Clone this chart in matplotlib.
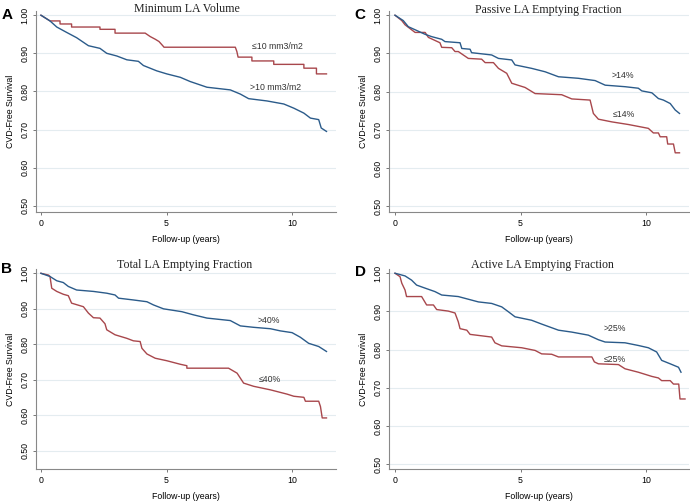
import matplotlib
matplotlib.use("Agg")
import matplotlib.pyplot as plt

plt.rcParams['font.family'] = ['Liberation Sans', 'DejaVu Sans']

# ---- data (years, CVD-free survival) ----
# A: minimum LA volume
a_low_t = [0, 0.36, 0.76, 0.76, 1.22, 1.22, 2.35, 2.35, 2.95, 2.95, 4.15, 4.35, 4.55, 4.7,
           4.85, 4.9, 7.74, 7.8, 7.85, 8.4, 8.4, 9.27, 9.27, 10.47, 10.47, 10.97, 10.97, 11.37]
a_low_s = [1.0, 0.985, 0.985, 0.977, 0.977, 0.969, 0.969, 0.963, 0.963, 0.953, 0.953, 0.944, 0.937, 0.931,
           0.92, 0.916, 0.916, 0.905, 0.89, 0.89, 0.88, 0.88, 0.871, 0.871, 0.861, 0.861, 0.846, 0.846]
a_high_t = [0, 0.36, 0.63, 1.02, 1.42, 1.89, 2.35, 2.62, 3.02, 3.42, 3.88, 4.08, 4.61, 5.01,
            5.55, 5.94, 6.61, 7.54, 7.94, 8.27, 9.0, 9.67, 10.07, 10.47, 10.73, 11.06, 11.16, 11.37]
a_high_s = [1.0, 0.985, 0.969, 0.955, 0.941, 0.92, 0.913, 0.9, 0.893, 0.883, 0.879, 0.868, 0.854, 0.846,
            0.837, 0.826, 0.811, 0.804, 0.793, 0.781, 0.775, 0.767, 0.756, 0.743, 0.73, 0.726, 0.704, 0.695]

# B: total LA emptying fraction
b_high_t = [0, 0.36, 0.63, 0.89, 1.09, 1.42, 2.09, 2.62, 2.95, 3.09, 3.68, 4.22, 4.48, 4.88,
            5.61, 6.08, 6.61, 7.54, 7.94, 8.47, 9.14, 9.53, 10.0, 10.33, 10.66, 11.06, 11.37]
b_high_s = [1.0, 0.991, 0.979, 0.974, 0.963, 0.953, 0.949, 0.944, 0.939, 0.93, 0.925, 0.92, 0.911, 0.9,
            0.892, 0.883, 0.874, 0.867, 0.852, 0.848, 0.844, 0.838, 0.833, 0.82, 0.803, 0.794, 0.78]
b_low_t = [0, 0.3, 0.36, 0.43, 0.63, 0.89, 1.09, 1.22, 1.69, 1.89, 2.09, 2.35, 2.55, 2.62, 2.95,
           3.42, 3.68, 3.95, 4.02, 4.22, 4.55, 5.01, 5.55, 5.81, 5.81, 7.47, 7.81, 8.07, 8.47,
           9.14, 9.8, 10.07, 10.47, 10.53, 11.06, 11.13, 11.2, 11.37]
b_low_s = [1.0, 0.995, 0.991, 0.958, 0.949, 0.941, 0.937, 0.916, 0.906, 0.888, 0.875, 0.874, 0.858, 0.841, 0.827,
           0.817, 0.81, 0.808, 0.789, 0.773, 0.761, 0.754, 0.744, 0.74, 0.733, 0.733, 0.719, 0.691, 0.682,
           0.672, 0.66, 0.654, 0.651, 0.64, 0.64, 0.625, 0.593, 0.593]

# C: passive LA emptying fraction
c_high_t = [0, 0.33, 0.53, 0.8, 1.2, 1.46, 1.86, 1.99, 2.59, 2.66, 2.99, 3.05, 3.85, 4.12, 4.65, 4.78,
            5.44, 5.98, 6.51, 7.3, 7.97, 8.37, 9.16, 9.69, 9.83, 10.23, 10.49, 10.69, 10.96, 11.16, 11.33]
c_high_s = [1.0, 0.986, 0.97, 0.962, 0.95, 0.944, 0.937, 0.931, 0.928, 0.913, 0.911, 0.902, 0.896, 0.887, 0.883, 0.87,
            0.861, 0.852, 0.839, 0.835, 0.829, 0.817, 0.813, 0.809, 0.802, 0.797, 0.782, 0.778, 0.769, 0.752, 0.743]
c_low_t = [0, 0.27, 0.4, 0.66, 0.8, 1.2, 1.33, 1.79, 1.86, 2.26, 2.39, 2.52, 2.92, 3.45, 3.59, 3.92,
           4.12, 4.45, 4.65, 5.18, 5.58, 6.64, 7.04, 7.77, 7.9, 8.1, 8.63, 9.3, 10.09, 10.29, 10.49,
           10.56, 10.82, 10.86, 11.09, 11.16, 11.33]
c_low_s = [1.0, 0.986, 0.975, 0.962, 0.955, 0.955, 0.942, 0.928, 0.916, 0.915, 0.905, 0.905, 0.887, 0.885, 0.876, 0.876,
           0.861, 0.848, 0.822, 0.811, 0.795, 0.792, 0.781, 0.778, 0.743, 0.728, 0.721, 0.714, 0.704, 0.692, 0.692,
           0.682, 0.682, 0.663, 0.663, 0.64, 0.64]

# D: active LA emptying fraction
d_high_t = [0, 0.4, 0.66, 0.86, 1.2, 1.59, 1.86, 2.52, 2.92, 3.32, 3.85, 4.25, 4.52, 4.78, 5.44,
            5.84, 6.51, 7.04, 7.7, 8.1, 8.37, 9.16, 9.69, 10.09, 10.42, 10.62, 10.96, 11.29, 11.39]
d_high_s = [1.0, 0.993, 0.982, 0.969, 0.961, 0.952, 0.943, 0.939, 0.932, 0.925, 0.921, 0.912, 0.899, 0.886, 0.877,
            0.867, 0.851, 0.846, 0.838, 0.826, 0.82, 0.818, 0.811, 0.805, 0.794, 0.772, 0.763, 0.754, 0.741]
d_low_t = [0, 0.2, 0.27, 0.4, 0.46, 1.06, 1.26, 1.53, 1.66, 2.12, 2.39, 2.52, 2.59, 2.86, 2.99, 3.85,
           3.98, 4.25, 5.05, 5.58, 5.84, 6.24, 6.51, 7.84, 7.94, 8.1, 8.9, 9.16, 9.69, 10.23, 10.49,
           10.62, 10.96, 11.09, 11.3, 11.35, 11.55]
d_low_s = [1.0, 0.991, 0.974, 0.956, 0.939, 0.939, 0.917, 0.917, 0.905, 0.901, 0.896, 0.873, 0.855, 0.851, 0.84, 0.833,
           0.818, 0.81, 0.805, 0.798, 0.789, 0.788, 0.781, 0.781, 0.768, 0.763, 0.761, 0.75, 0.741, 0.73, 0.726,
           0.719, 0.719, 0.71, 0.71, 0.671, 0.671]

titles = ["Minimum LA Volume", "Total LA Emptying Fraction",
          "Passive LA Emptying Fraction", "Active LA Emptying Fraction"]
letters = ["A", "B", "C", "D"]
high_labels = [">10 mm3/m2", ">40%", ">14%", ">25%"]
low_labels = ["\u226410 mm3/m2", "\u226440%", "\u226414%", "\u226425%"]
yticks = [0.5, 0.6, 0.7, 0.8, 0.9, 1.0]
xticks = [0, 5, 10]

BLUE = "#2b5b8a"
RED = "#a8474c"
W, H = 690, 501

# per-panel layout: axes rect, limits, title / letter pixel positions, label spots
panels = [
    dict(rect=[0.0517, 0.5762, 0.4353, 0.4018], xlim=(-0.21, 11.75), ylim=(0.4827, 1.011),
         hi=(a_high_t, a_high_s), lo=(a_low_t, a_low_s), title_px=(187, 9.5), letter_px=(6.7, 15.3),
         hi_pos=(8.33, 0.809), lo_pos=(8.41, 0.917)),
    dict(rect=[0.0517, 0.0633, 0.4353, 0.3997], xlim=(-0.21, 11.75), ylim=(0.4485, 1.012),
         hi=(b_high_t, b_high_s), lo=(b_low_t, b_low_s), title_px=(185, 265), letter_px=(6.7, 269),
         hi_pos=(8.63, 0.868), lo_pos=(8.66, 0.70)),
    dict(rect=[0.5642, 0.5762, 0.4344, 0.4018], xlim=(-0.227, 11.71), ylim=(0.4843, 1.011),
         hi=(c_high_t, c_high_s), lo=(c_low_t, c_low_s), title_px=(548, 9.5), letter_px=(360, 15.3),
         hi_pos=(8.63, 0.843), lo_pos=(8.69, 0.741)),
    dict(rect=[0.5642, 0.0633, 0.4344, 0.3997], xlim=(-0.227, 11.71), ylim=(0.487, 1.011),
         hi=(d_high_t, d_high_s), lo=(d_low_t, d_low_s), title_px=(542, 265), letter_px=(360, 272),
         hi_pos=(8.3, 0.856), lo_pos=(8.3, 0.773)),
]

fig = plt.figure(figsize=(W / 100, H / 100), dpi=100)

for i, p in enumerate(panels):
    ax = fig.add_axes(p["rect"])
    ax.set_xlim(*p["xlim"])
    ax.set_ylim(*p["ylim"])

    # light stata-like gridlines
    for yv in yticks:
        ax.axhline(yv, color="#e4ecf0", lw=0.8, zorder=0)

    ax.plot(p["lo"][0], p["lo"][1], color=RED, lw=1.0)
    ax.plot(p["hi"][0], p["hi"][1], color=BLUE, lw=1.0)

    ax.text(p["hi_pos"][0], p["hi_pos"][1], high_labels[i], fontsize=6.3, color="#333333",
            ha="left", va="center")
    ax.text(p["lo_pos"][0], p["lo_pos"][1], low_labels[i], fontsize=6.3, color="#333333",
            ha="left", va="center")

    ax.set_xticks(xticks)
    ax.set_yticks(yticks)
    ax.set_yticklabels(["%.2f" % v for v in yticks], rotation=90, va="center")
    ax.tick_params(labelsize=6.3, length=2.2, width=0.7, color="#777777", pad=2.5)
    for s in ["top", "right"]:
        ax.spines[s].set_visible(False)
    for s in ["left", "bottom"]:
        ax.spines[s].set_color("#888888")
        ax.spines[s].set_linewidth(0.8)

    ax.set_xlabel("Follow-up (years)", fontsize=6.3, labelpad=5)
    ax.set_ylabel("CVD-Free Survival", fontsize=6.3, labelpad=4)

    tx, ty = p["title_px"]
    fig.text(tx / W, 1 - ty / H, titles[i], family="Liberation Serif", fontsize=8.6,
             ha="center", va="center", color="#222222")
    lx, ly = p["letter_px"]
    fig.text(lx / W, 1 - ly / H, letters[i], fontsize=11, fontweight="bold",
             ha="center", va="center")

fig.savefig("out.png", dpi=100)
